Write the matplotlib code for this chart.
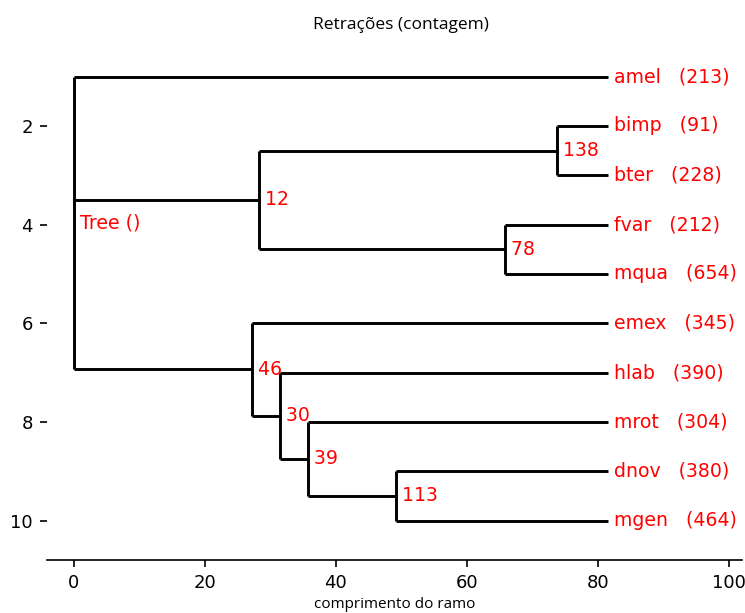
import numpy as np
import matplotlib
matplotlib.use("Agg")
import matplotlib.pyplot as plt

# Tree nodes (index 0 is the root); parent index and branch length to parent
node_names = ["Tree ()", "amel", "12", "138", "bimp", "bter", "78", "fvar", "mqua",
              "46", "emex", "30", "hlab", "39", "mrot", "113", "dnov", "mgen"]
parents = [-1, 0, 0, 2, 3, 3, 2, 6, 6, 0, 9, 9, 11, 11, 13, 13, 15, 15]
branch_len = [0.0, 81.6, 28.3, 45.5, 7.8, 7.8, 37.6, 15.7, 15.7,
              27.25, 54.35, 4.25, 50.1, 4.25, 45.85, 13.45, 32.4, 32.4]
leaf_counts = {"amel": 213, "bimp": 91, "bter": 228, "fvar": 212, "mqua": 654,
               "emex": 345, "hlab": 390, "mrot": 304, "dnov": 380, "mgen": 464}

title = "Retrações (contagem)"
xlabel = "comprimento do ramo"
label_font = ["Open Sans", "DejaVu Sans"]

n = len(node_names)
children = [[] for _ in range(n)]
for i, p in enumerate(parents):
    if p >= 0:
        children[p].append(i)

# x = depth from root
x = np.zeros(n)
for i in range(1, n):
    x[i] = x[parents[i]] + branch_len[i]

# y: leaves numbered in order, internal = mean of first and last child
y = np.zeros(n)
leaf_no = [0]
def place(i):
    if not children[i]:
        leaf_no[0] += 1
        y[i] = leaf_no[0]
        return
    for c in children[i]:
        place(c)
    y[i] = (y[children[i][0]] + y[children[i][-1]]) / 2
place(0)

fig = plt.figure(figsize=(7.45, 6.13), dpi=100)
ax = fig.add_axes([0.063, 0.0865, 0.933, 0.853])

lw = 2.1
for i in range(n):
    p = parents[i]
    if p >= 0:
        ax.plot([x[p], x[i]], [y[i], y[i]], color="black", lw=lw, solid_capstyle="butt")
    if children[i]:
        ax.plot([x[i], x[i]], [y[children[i][0]], y[children[i][-1]]],
                color="black", lw=lw, solid_capstyle="butt")
    if node_names[i] in leaf_counts:
        label = " %s   (%d)" % (node_names[i], leaf_counts[node_names[i]])
    else:
        label = " %s" % node_names[i]
    ax.text(x[i], y[i], label, color="red", fontsize=13.6,
            va="center", ha="left", family="DejaVu Sans")

xmax = x.max()
ax.set_xlim(-0.05 * xmax, 1.25 * xmax)
ax.set_ylim(max(y) + 0.8, 0.2)
ax.set_xticks([0, 20, 40, 60, 80, 100])
ax.set_yticks([2, 4, 6, 8, 10])

for s in ["top", "right", "left"]:
    ax.spines[s].set_visible(False)
ax.spines["bottom"].set_linewidth(1.2)

ax.tick_params(axis="both", length=5, width=1.2, labelsize=13, pad=5)

ax.set_title(title, fontsize=12.5, family=label_font, pad=6, x=0.51)
ax.set_xlabel(xlabel, fontsize=11, family=label_font, labelpad=4)

fig.savefig("out.png", dpi=100)
